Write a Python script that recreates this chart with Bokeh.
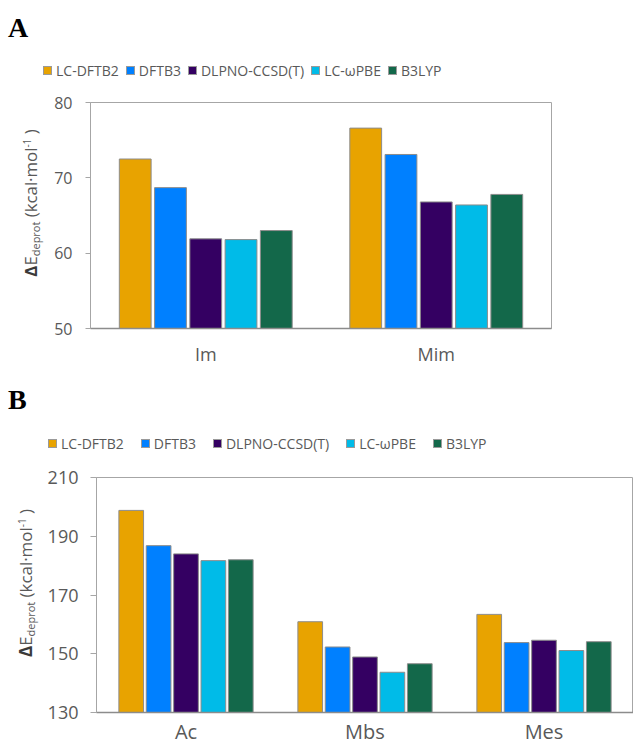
from bokeh.plotting import figure
from bokeh.models import (FactorRange, Range1d, FixedTicker, ColumnDataSource, Div)
from bokeh.transform import dodge
from bokeh.layouts import column, row
from bokeh.embed import file_html
from bokeh.resources import INLINE

# ---------------- data ----------------
methods = ["LC-DFTB2", "DFTB3", "DLPNO-CCSD(T)", "LC-\u03c9PBE", "B3LYP"]
colors = ["#E8A300", "#0080FF", "#340062", "#00BBE8", "#13684A"]

cats_a = ["Im", "Mim"]
a_lcdftb2 = [72.5, 76.6]
a_dftb3 = [68.7, 73.1]
a_dlpno = [61.9, 66.8]
a_lcwpbe = [61.8, 66.4]
a_b3lyp = [63.0, 67.8]
yticks_a = [50, 60, 70, 80]

cats_b = ["Ac", "Mbs", "Mes"]
b_lcdftb2 = [198.8, 160.9, 163.4]
b_dftb3 = [186.8, 152.3, 153.8]
b_dlpno = [184.0, 148.9, 154.6]
b_lcwpbe = [181.7, 143.7, 151.1]
b_b3lyp = [182.0, 146.6, 154.1]
yticks_b = [130, 150, 170, 190, 210]

ylabel_html = ("<span style='font-weight:bold;color:#3a3a3a'>\u0394</span>E"
               "<span style='font-size:{sub}px;vertical-align:-3px'>deprot</span>"
               " (kcal\u00b7mol"
               "<span style='font-size:{sup}px;vertical-align:6px'>-1</span> )")

FONT = "Open Sans"
GRAY = "#595959"


def header_div(letter, letter_top, legend_left, legend_top, gap, height):
    items = ""
    for m, c in zip(methods, colors):
        items += ("<span style='display:inline-block;width:9px;height:9px;"
                  "box-sizing:border-box;border:1px solid #9a9a9a;background:%s'></span>"
                  "<span style='margin-left:4px;margin-right:%dpx'>%s</span>" % (c, gap, m))
    html = ("<div style='position:relative;width:633px;height:%dpx'>"
            "<div style=\"position:absolute;left:8px;top:%.1fpx;font-family:'Liberation Serif';"
            "font-weight:bold;font-size:28px;line-height:28px;color:black\">%s</div>"
            "<div style=\"position:absolute;left:%.1fpx;top:%.1fpx;display:flex;align-items:center;"
            "height:14px;font-family:'Open Sans';font-size:14px;line-height:14px;color:#595959;"
            "white-space:nowrap\">%s</div></div>"
            % (height, letter_top, letter, legend_left, legend_top, items))
    return Div(text=html, width=633, height=height, margin=0)


def ylabel_div(width, height, cx, cy, fs, sub, sup):
    html = ("<div style='position:relative;width:%dpx;height:%dpx'>"
            "<div style=\"position:absolute;left:%.1fpx;top:%.1fpx;line-height:normal;"
            "transform:translate(-50%%,-50%%) rotate(-90deg);white-space:nowrap;"
            "font-family:'Open Sans';font-size:%.1fpx;color:#595959\">%s</div></div>"
            % (width, height, cx, cy, fs, ylabel_html.format(sub=sub, sup=sup)))
    return Div(text=html, width=width, height=height, margin=0)


def make_fig(cats, series, yticks, width, height, mb_left, mb_right, mb_top, mb_bottom,
             tick_fs, tick_out, tick_standoff, xlab_fs, xlab_standoff):
    p = figure(width=width, height=height, x_range=FactorRange(*cats),
               y_range=Range1d(yticks[0], yticks[-1]),
               output_backend="svg", toolbar_location=None,
               min_border_left=mb_left, min_border_right=mb_right,
               min_border_top=mb_top, min_border_bottom=mb_bottom, margin=0)
    try:
        p.frame_align = False
    except Exception:
        pass
    p.background_fill_color = "white"
    p.border_fill_color = "white"
    p.outline_line_color = "#a6a6a6"
    p.outline_line_width = 1
    p.xgrid.visible = False
    p.ygrid.visible = False

    data = {"cat": cats}
    for i, vals in enumerate(series):
        data["s%d" % i] = vals
    src = ColumnDataSource(data)

    slot = 0.153
    bw = 0.138
    for i in range(len(series)):
        p.vbar(x=dodge("cat", (i - 2) * slot, range=p.x_range), top="s%d" % i,
               bottom=0, width=bw, source=src, fill_color=colors[i],
               line_color="#8c8c8c", line_width=1)

    p.yaxis.ticker = FixedTicker(ticks=yticks)
    p.yaxis.minor_tick_line_color = None
    p.yaxis.major_tick_in = 0
    p.yaxis.major_tick_out = tick_out
    p.yaxis.major_tick_line_color = "#a6a6a6"
    p.yaxis.axis_line_color = "#a6a6a6"
    p.yaxis.major_label_text_font = FONT
    p.yaxis.major_label_text_font_size = "%dpx" % tick_fs
    p.yaxis.major_label_text_color = GRAY
    p.yaxis.major_label_standoff = tick_standoff

    p.xaxis.major_tick_in = 0
    p.xaxis.major_tick_out = 0
    p.xaxis.axis_line_color = "#8c8c8c"
    p.xaxis.axis_line_width = 1.5
    p.xaxis.major_label_text_font = FONT
    p.xaxis.major_label_text_font_size = "%dpx" % xlab_fs
    p.xaxis.major_label_text_color = GRAY
    p.xaxis.major_label_standoff = xlab_standoff
    return p


# ---------------- panel A ----------------
hdr_a = header_div("A", 13.5, 43, 63.5, 7, 84)
ylab_a = ylabel_div(45, 286, 30.5, 118.5, 16.8, 11, 10)
fig_a = make_fig(cats_a, [a_lcdftb2, a_dftb3, a_dlpno, a_lcwpbe, a_b3lyp], yticks_a,
                 width=588, height=286, mb_left=45, mb_right=82, mb_top=18, mb_bottom=42,
                 tick_fs=16, tick_out=5, tick_standoff=13, xlab_fs=18, xlab_standoff=13)

# ---------------- panel B ----------------
hdr_b = header_div("B", 16, 48, 66.5, 17, 88)
ylab_b = ylabel_div(40, 290, 25.5, 125, 16.9, 11, 10)
fig_b = make_fig(cats_b, [b_lcdftb2, b_dftb3, b_dlpno, b_lcwpbe, b_b3lyp], yticks_b,
                 width=593, height=290, mb_left=56, mb_right=0, mb_top=19, mb_bottom=36,
                 tick_fs=18, tick_out=6, tick_standoff=12, xlab_fs=20, xlab_standoff=5)

layout = column(hdr_a, row(ylab_a, fig_a, spacing=0), hdr_b, row(ylab_b, fig_b, spacing=0),
                spacing=0)
open("out.html", "w").write(file_html(layout, INLINE))
